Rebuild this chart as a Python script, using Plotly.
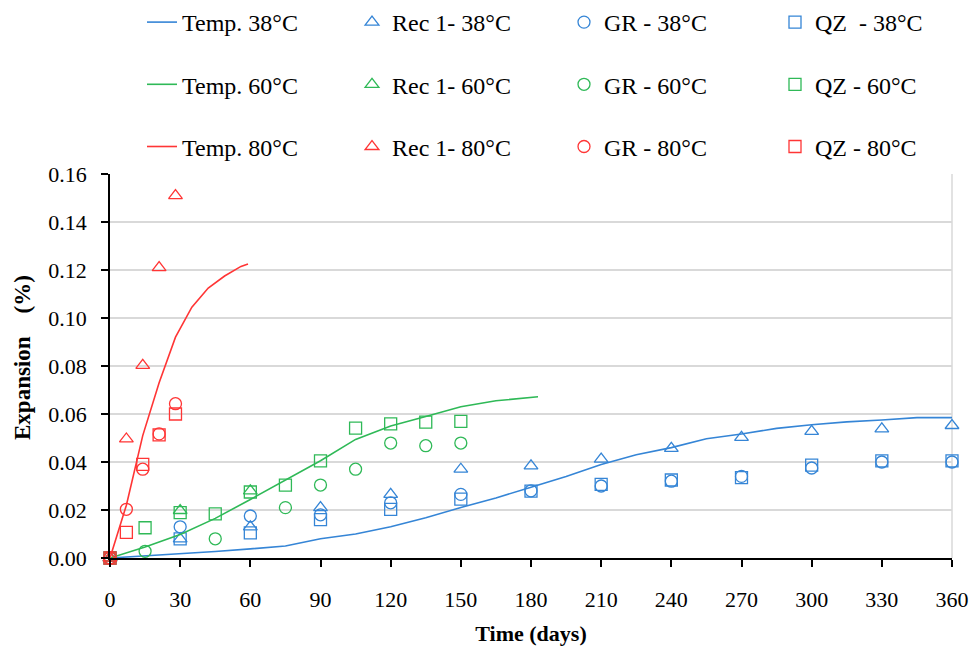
import plotly.graph_objects as go

# ---- data -------------------------------------------------------------
# Temperature-model expansion curves (days, %)
temp38_days = [0, 15, 30, 45, 60, 75, 90, 105, 120, 135, 150, 165, 180, 195,
               210, 225, 240, 255, 270, 285, 300, 315, 330, 345, 360]
temp38_exp = [0.0, 0.0008, 0.0018, 0.0027, 0.0038, 0.005, 0.008, 0.010, 0.013,
              0.0168, 0.021, 0.025, 0.0295, 0.034, 0.039, 0.043, 0.046, 0.0497,
              0.0517, 0.054, 0.0555, 0.0567, 0.0575, 0.0585, 0.0585]

temp60_days = [0, 15, 30, 45, 60, 75, 90, 105, 120, 135, 150, 165, 183]
temp60_exp = [0.0, 0.0046, 0.0098, 0.0165, 0.0244, 0.0325, 0.0405, 0.0494,
              0.055, 0.059, 0.063, 0.0655, 0.0672]

temp80_days = [0, 7, 14, 21, 28, 35, 42, 49, 56, 59]
temp80_exp = [0.0, 0.022, 0.051, 0.073, 0.092, 0.1045, 0.1125, 0.1175,
              0.1215, 0.1225]

# Measured expansion: 38 °C
m38_days = [0, 30, 60, 90, 120, 150, 180, 210, 240, 270, 300, 330, 360]
rec1_38 = [0.0, 0.008, 0.013, 0.021, 0.0265, 0.037, 0.0384, 0.0412, 0.0457,
           0.0503, 0.0528, 0.0538, 0.0552]
gr_38 = [0.0, 0.013, 0.0175, 0.018, 0.023, 0.0265, 0.028, 0.030, 0.032,
         0.034, 0.0375, 0.040, 0.040]
qz_38 = [0.0, 0.008, 0.0105, 0.016, 0.0203, 0.0245, 0.0279, 0.0307, 0.0325,
         0.0335, 0.0387, 0.0405, 0.0405]

# Measured expansion: 60 °C
rec1_60_days = [0, 30, 60]
rec1_60 = [0.0, 0.0198, 0.028]
gr_60_days = [0, 15, 45, 75, 90, 105, 120, 135, 150]
gr_60 = [0.0, 0.0028, 0.008, 0.021, 0.0304, 0.037, 0.0479, 0.0468, 0.0479]
qz_60_days = [0, 15, 30, 45, 60, 75, 90, 105, 120, 135, 150]
qz_60 = [0.0, 0.0126, 0.0189, 0.0184, 0.0275, 0.0304, 0.0405, 0.0541,
         0.0559, 0.0566, 0.0569]

# Measured expansion: 80 °C
m80_days = [0, 7, 14, 21, 28]
rec1_80 = [0.0, 0.0496, 0.0803, 0.121, 0.151]
gr_80 = [0.0, 0.0203, 0.037, 0.0517, 0.0643]
qz_80 = [0.0, 0.0107, 0.039, 0.0513, 0.060]

x_ticks = [0, 30, 60, 90, 120, 150, 180, 210, 240, 270, 300, 330, 360]
y_ticks = [0.00, 0.02, 0.04, 0.06, 0.08, 0.10, 0.12, 0.14, 0.16]

# ---- styling ----------------------------------------------------------
BLUE = "#3585d6"
GREEN = "#2fb957"
RED = "#ff3535"
FONT = "Liberation Serif, Times New Roman, serif"
MSIZE = 12
MLW = 1.3

fig = go.Figure()

# Legend columns: curves, Rec 1, GR, QZ; one row per temperature
groups = [
    ("38", BLUE, "38°C", temp38_days, temp38_exp, [
        ("Rec 1- 38°C", "triangle-up-open", m38_days, rec1_38),
        ("GR - 38°C", "circle-open", m38_days, gr_38),
        ("QZ  - 38°C", "square-open", m38_days, qz_38),
    ]),
    ("60", GREEN, "60°C", temp60_days, temp60_exp, [
        ("Rec 1- 60°C", "triangle-up-open", rec1_60_days, rec1_60),
        ("GR - 60°C", "circle-open", gr_60_days, gr_60),
        ("QZ - 60°C", "square-open", qz_60_days, qz_60),
    ]),
    ("80", RED, "80°C", temp80_days, temp80_exp, [
        ("Rec 1- 80°C", "triangle-up-open", m80_days, rec1_80),
        ("GR - 80°C", "circle-open", m80_days, gr_80),
        ("QZ - 80°C", "square-open", m80_days, qz_80),
    ]),
]
legend_ids = ["legend", "legend2", "legend3", "legend4"]

for key, color, label, lx, ly, series in groups:
    fig.add_trace(go.Scatter(
        x=lx, y=ly, mode="lines", name=f"Temp. {label}",
        line=dict(color=color, width=1.6), legend=legend_ids[0],
        legendgroup=key, cliponaxis=False))
    for i, (name, sym, xs, ys) in enumerate(series):
        fig.add_trace(go.Scatter(
            x=xs, y=ys, mode="markers", name=name, legend=legend_ids[i + 1],
            legendgroup=key, cliponaxis=False,
            marker=dict(symbol=sym, size=MSIZE, color=color,
                        line=dict(color=color, width=MLW))))

legend_left_px = [142, 352, 564, 775]
legend_common = dict(
    orientation="v", xref="container", yref="container",
    xanchor="left", yanchor="top", y=1 + 11 / 648,
    tracegroupgap=28,
    font=dict(family=FONT, size=24, color="#000000"),
    bgcolor="rgba(0,0,0,0)", itemclick=False, itemdoubleclick=False,
)
legends = {lid: dict(x=px / 971, **legend_common)
           for lid, px in zip(legend_ids, legend_left_px)}

fig.update_layout(
    width=971, height=648,
    margin=dict(l=110, r=19, t=174, b=90, autoexpand=False),
    paper_bgcolor="white", plot_bgcolor="white",
    font=dict(family=FONT, size=22, color="#000000"),
    xaxis=dict(
        range=[0, 360], tickvals=x_ticks, showgrid=False, zeroline=False,
        showline=True, linecolor="#000000", linewidth=1.5,
        ticks="outside", ticklen=7, tickcolor="#000000", tickwidth=1.5,
        ticklabelstandoff=14,
        tickfont=dict(family=FONT, size=22),
        title=dict(text="<b>Time (days)</b>", standoff=14,
                   font=dict(family=FONT, size=22)),
    ),
    yaxis=dict(
        range=[0, 0.16], tickvals=y_ticks, tickformat=".2f",
        showgrid=True, gridcolor="#d9d9d9", gridwidth=1.5, zeroline=False,
        showline=True, linecolor="#000000", linewidth=1.5,
        ticks="outside", ticklen=7, tickcolor="#000000", tickwidth=1.5,
        ticklabelstandoff=10,
        tickfont=dict(family=FONT, size=22),
    ),
    annotations=[dict(
        text="<b>Expansion    (%)</b>", textangle=-90,
        xref="paper", yref="paper", x=0, y=0.5, xanchor="center",
        yanchor="middle", xshift=-88, yshift=8, showarrow=False,
        font=dict(family=FONT, size=23, color="#000000"))],
    shapes=[dict(type="line", xref="paper", yref="paper", x0=1, x1=1,
                 y0=0, y1=1, line=dict(color="#d9d9d9", width=1.5),
                 layer="below")],
    **legends,
)

fig.write_html("out.html")
